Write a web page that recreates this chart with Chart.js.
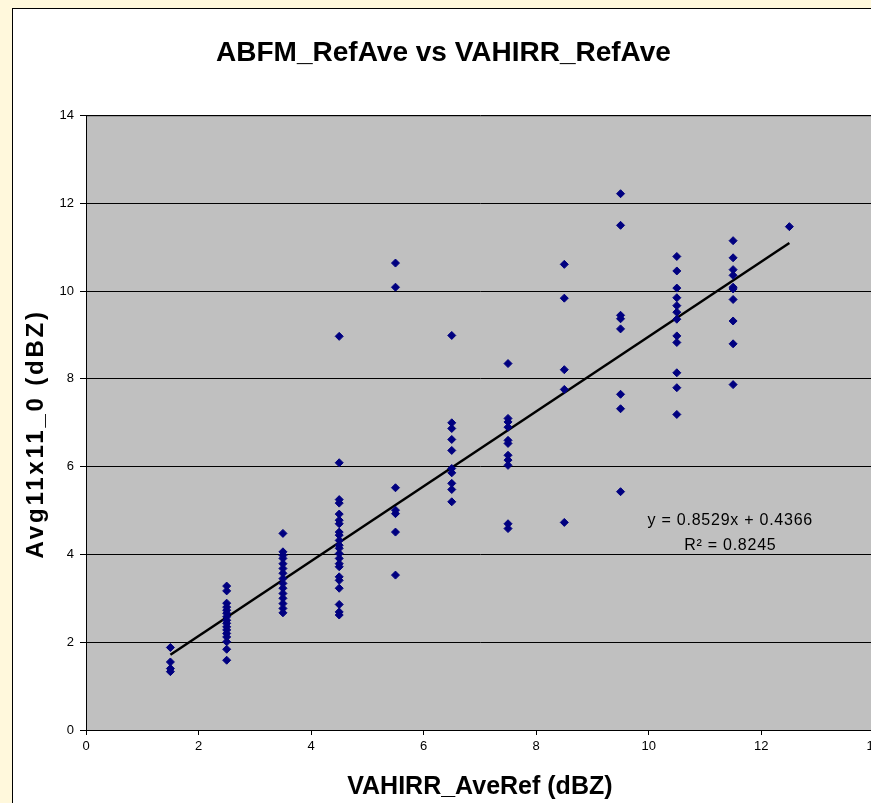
<!DOCTYPE html>
<html lang="en">
<head>
    <meta charset="UTF-8">
    <title>ABFM_RefAve vs VAHIRR_RefAve</title>
    <script src="https://cdn.jsdelivr.net/npm/chart.js"></script>
    <style>
        body {
            margin: 0;
            background: #FFF8DC;
            overflow: hidden;
            font-family: "Liberation Sans", Arial, sans-serif;
        }
        #frame {
            position: absolute;
            left: 12px;
            top: 8px;
            width: 900px;
            height: 820px;
            background: #fff;
            border: 1px solid #000;
        }
        #wrap {
            position: absolute;
            left: 0;
            top: 0;
            width: 872px;
            height: 794px;
        }
    </style>
</head>
<body>
    <div id="frame">
        <div id="wrap"><canvas id="scatterChart" width="872" height="794"></canvas></div>
    </div>
<script>
    // VAHIRR_AveRef (x) columns and the Avg11x11_0 values observed at each
    const xColumns = [1.5, 2.5, 3.5, 4.5, 5.5, 6.5, 7.5, 8.5, 9.5, 10.5, 11.5, 12.5];
    const yAt1_5 = [1.88, 1.55, 1.40, 1.33];
    const yAt2_5 = [3.28, 3.17, 2.89, 2.80, 2.73, 2.66, 2.58, 2.50, 2.43, 2.35, 2.28, 2.20, 2.12, 2.01, 1.84, 1.59];
    const yAt3_5 = [4.48, 4.06, 3.98, 3.91, 3.79, 3.68, 3.57, 3.45, 3.34, 3.23, 3.11, 3.00, 2.88, 2.77, 2.67];
    const yAt4_5 = [8.97, 6.09, 5.25, 5.17, 4.92, 4.78, 4.70, 4.51, 4.44, 4.32, 4.21, 4.14, 4.02, 3.91, 3.79, 3.72, 3.49, 3.41, 3.23, 2.86, 2.69, 2.62];
    const yAt5_5 = [10.64, 10.09, 5.52, 5.01, 4.93, 4.51, 3.53];
    const yAt6_5 = [8.99, 7.00, 6.87, 6.62, 6.37, 5.96, 5.86, 5.62, 5.48, 5.20];
    const yAt7_5 = [8.35, 7.10, 7.02, 6.90, 6.60, 6.53, 6.26, 6.15, 6.03, 4.70, 4.59];
    const yAt8_5 = [10.61, 9.84, 8.21, 7.76, 4.73];
    const yAt9_5 = [12.22, 11.50, 9.45, 9.37, 9.14, 7.65, 7.32, 5.43];
    const yAt10_5 = [10.79, 10.46, 10.07, 9.85, 9.67, 9.52, 9.36, 8.98, 8.83, 8.14, 7.80, 7.19];
    const yAt11_5 = [11.15, 10.76, 10.49, 10.36, 10.09, 10.05, 9.81, 9.32, 8.80, 7.87];
    const yAt12_5 = [11.47];
    const yColumns = [yAt1_5, yAt2_5, yAt3_5, yAt4_5, yAt5_5, yAt6_5, yAt7_5, yAt8_5, yAt9_5, yAt10_5, yAt11_5, yAt12_5];

    // linear trend line as printed on the chart
    const slope = 0.8529;
    const intercept = 0.4366;
    const rSquared = 0.8245;
    const trendRange = [1.5, 12.5];

    const axisTicks = [0, 2, 4, 6, 8, 10, 12, 14];
    const yTitle = 'Avg11x11_0 (dBZ)';

    const points = [];
    xColumns.forEach((x, i) => yColumns[i].forEach(y => points.push({ x: x, y: y })));
    const trendPoints = trendRange.map(x => ({ x: x, y: slope * x + intercept }));

    const FONT = '"Liberation Sans", Arial, sans-serif';

    const plotBackground = {
        id: 'plotBackground',
        beforeDraw(chart) {
            const { ctx, chartArea: a } = chart;
            ctx.save();
            ctx.fillStyle = '#C0C0C0';
            ctx.fillRect(a.left, a.top, a.right - a.left, a.bottom - a.top);
            ctx.strokeStyle = '#808080';
            ctx.lineWidth = 1;
            ctx.strokeRect(a.left + 0.5, a.top + 0.5, a.right - a.left, a.bottom - a.top);
            ctx.restore();
        }
    };

    // excel draws the text a little wider than plain Arial, so letter spacing is added
    const extraText = {
        id: 'extraText',
        afterDatasetsDraw(chart) {
            const { ctx, scales } = chart;
            const cx = scales.x.getPixelForValue(11.45);
            ctx.save();
            ctx.fillStyle = '#000';
            ctx.textAlign = 'center';
            ctx.textBaseline = 'middle';
            ctx.font = '16px ' + FONT;
            ctx.letterSpacing = '0.75px';
            ctx.fillText('y = ' + slope + 'x + ' + intercept, cx, scales.y.getPixelForValue(4.78));
            ctx.fillText('R\u00B2 = ' + rSquared, cx, scales.y.getPixelForValue(4.21));
            ctx.restore();
        },
        afterDraw(chart) {
            const { ctx, chartArea: a } = chart;
            ctx.save();
            ctx.translate(23, (a.top + a.bottom) / 2 + 11);
            ctx.rotate(-Math.PI / 2);
            ctx.fillStyle = '#000';
            ctx.textAlign = 'center';
            ctx.textBaseline = 'middle';
            ctx.font = 'bold 24px ' + FONT;
            ctx.letterSpacing = '2.8px';
            ctx.fillText(yTitle, 0, 0);
            ctx.restore();
        }
    };

    new Chart(document.getElementById('scatterChart').getContext('2d'), {
        type: 'scatter',
        data: {
            datasets: [{
                label: 'Avg11x11_0',
                data: points,
                pointStyle: 'rectRot',
                pointRadius: 4,
                borderWidth: 1,
                backgroundColor: '#000080',
                borderColor: '#000080'
            }, {
                label: 'Linear',
                type: 'line',
                data: trendPoints,
                borderColor: '#000',
                borderWidth: 2.5,
                pointRadius: 0,
                fill: false
            }]
        },
        options: {
            responsive: false,
            animation: false,
            devicePixelRatio: 1,
            layout: { padding: { left: 0, right: 11, top: 0, bottom: 0 } },
            plugins: {
                legend: { display: false },
                tooltip: { enabled: false },
                title: {
                    display: true,
                    text: 'ABFM_RefAve vs VAHIRR_RefAve',
                    color: '#000',
                    font: { family: FONT, size: 28, weight: 'bold' },
                    padding: { top: 27, bottom: 46 }
                }
            },
            scales: {
                x: {
                    type: 'linear',
                    min: 0,
                    max: 14,
                    afterBuildTicks: s => { s.ticks = axisTicks.map(v => ({ value: v })); },
                    afterFit: s => { s.height = 73; },
                    ticks: {
                        color: '#000',
                        padding: 4,
                        maxRotation: 0,
                        font: { family: FONT, size: 13 }
                    },
                    grid: { drawOnChartArea: false, drawTicks: true, tickLength: 5, color: '#000' },
                    border: { color: '#000', width: 1 },
                    title: {
                        display: true,
                        text: 'VAHIRR_AveRef (dBZ)',
                        color: '#000',
                        font: { family: FONT, size: 25, weight: 'bold' },
                        padding: { top: 0, bottom: 1 }
                    }
                },
                y: {
                    type: 'linear',
                    min: 0,
                    max: 14,
                    afterBuildTicks: s => { s.ticks = axisTicks.map(v => ({ value: v })); },
                    afterFit: s => { s.width = 73; },
                    ticks: {
                        color: '#000',
                        padding: 6,
                        font: { family: FONT, size: 13 }
                    },
                    grid: { color: '#000', tickLength: 6 },
                    border: { color: '#000', width: 1 },
                    title: { display: false }
                }
            }
        },
        plugins: [plotBackground, extraText]
    });
</script>
</body>
</html>
